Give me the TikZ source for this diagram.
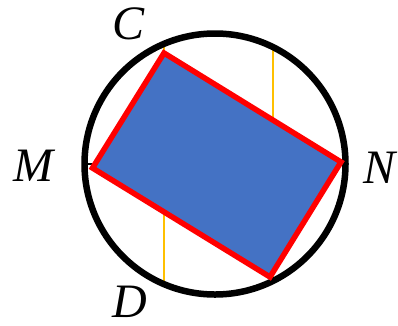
\documentclass[tikz,border=0pt]{standalone}
\usepackage{fontspec}
\setmainfont{Liberation Serif}
\usetikzlibrary{calc}
\definecolor{plateblue}{HTML}{4472C4}
\definecolor{chordgold}{HTML}{FFC000}

\begin{document}
\begin{tikzpicture}[
    x=1pt, y=-1pt,
    rim/.style={draw=black, line width=6.5pt},
    diam/.style={draw=black, line width=2pt},
    plate/.style={draw=red, fill=plateblue, line width=5.5pt, line join=miter},
    chord/.style={draw=chordgold, line width=1.5pt},
    vlabel/.style={font=\fontsize{48}{50}\selectfont\itshape, inner sep=0pt}
]
\useasboundingbox (0,0) rectangle (398,325);

% circle and points
\coordinate (O) at (215,164);
\coordinate (W) at ($(O)+(-130.5,0)$);
\coordinate (E) at ($(O)+(130.5,0)$);
\coordinate (M) at (92.5,168);
\coordinate (C) at (164,53);
\coordinate (N) at (341,162);
\coordinate (K) at (270,277);
\coordinate (Ct) at (164,44);
\coordinate (D) at (164,285);
\coordinate (Kt) at (273,47);
\coordinate (Kb) at (273,281);

\draw[chord] (Ct) -- (D);
\draw[chord] (Kt) -- (Kb);
\draw[diam] (W) -- (E);
\draw[rim] (O) circle (130.5pt);
\draw[plate] (M) -- (C) -- (N) -- (K) -- cycle;

\node[vlabel] (lblC) at (129,24) {C};
\node[vlabel] (lblD) at (130,302) {D};
\node[vlabel] (lblM) at (33,166) {M};
\node[vlabel] (lblN) at (380,168) {N};
\end{tikzpicture}
\end{document}
